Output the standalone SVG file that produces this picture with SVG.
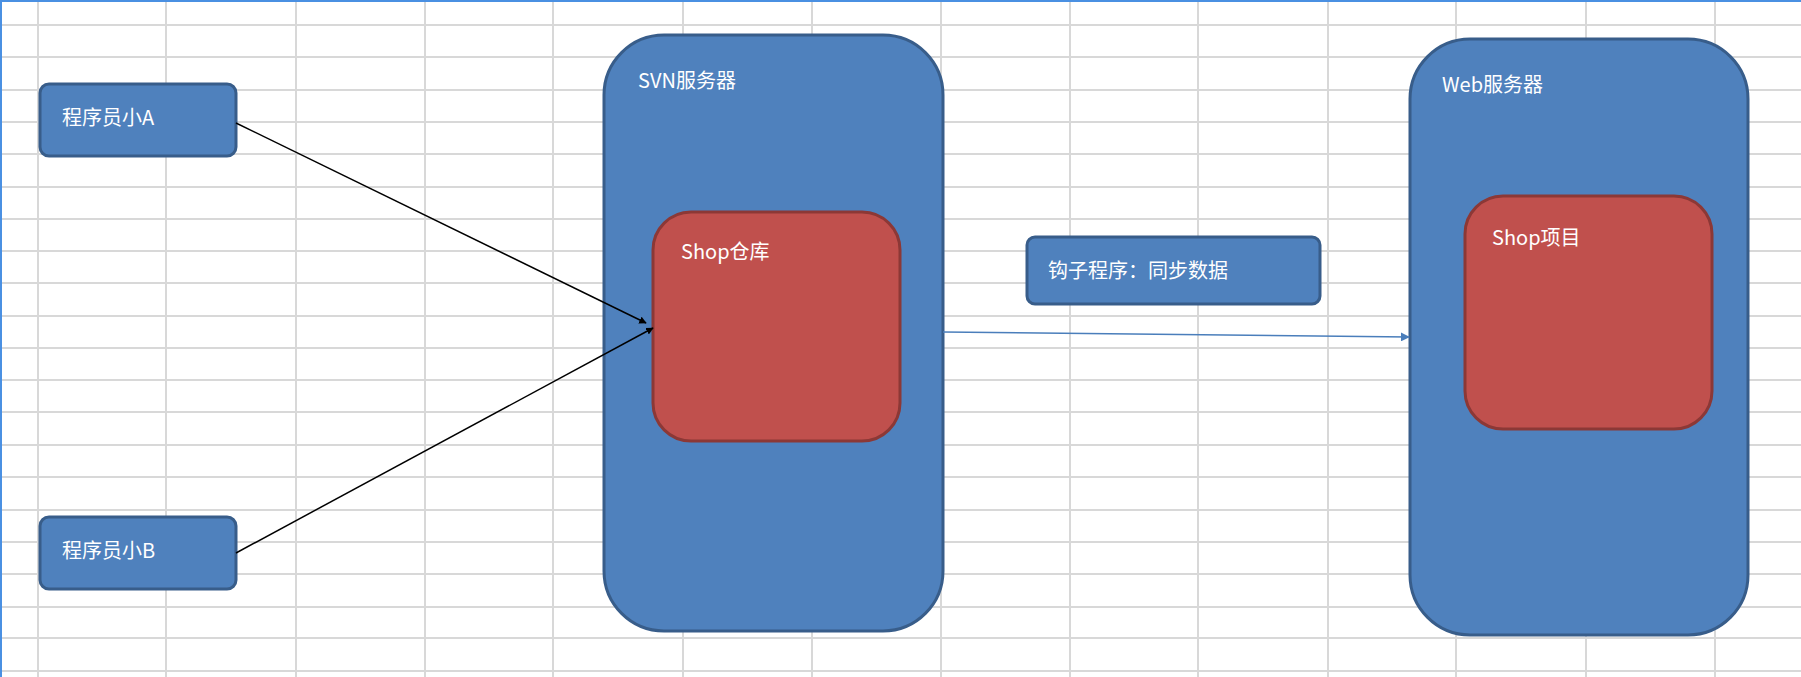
<svg xmlns="http://www.w3.org/2000/svg" width="1801" height="677" viewBox="0 0 1801 677">
<style>
.grid line{stroke:#d8d8d8;stroke-width:2}
.b{fill:#4f81bd;stroke:#385d8a;stroke-width:3}
.r{fill:#c0504d;stroke:#8c3836;stroke-width:3}
text{font-family:"Noto Sans CJK SC","Liberation Sans",sans-serif;font-size:20px;fill:#fff}
</style>
<defs>
<marker id="ab" viewBox="0 0 10 10" refX="9" refY="5" markerWidth="5" markerHeight="5" orient="auto"><path d="M0,0L10,5L0,10z" fill="#000"/></marker>
<marker id="au" viewBox="0 0 10 10" refX="9" refY="5" markerWidth="6" markerHeight="6" orient="auto"><path d="M0,0L10,5L0,10z" fill="#4a7ebb"/></marker>
</defs>
<rect width="1801" height="677" fill="#fff"/>
<g class="grid">
<line x1="38" y1="0" x2="38" y2="677"/><line x1="166" y1="0" x2="166" y2="677"/><line x1="296" y1="0" x2="296" y2="677"/><line x1="425" y1="0" x2="425" y2="677"/><line x1="553" y1="0" x2="553" y2="677"/><line x1="683" y1="0" x2="683" y2="677"/><line x1="812" y1="0" x2="812" y2="677"/><line x1="941" y1="0" x2="941" y2="677"/><line x1="1070" y1="0" x2="1070" y2="677"/><line x1="1198" y1="0" x2="1198" y2="677"/><line x1="1328" y1="0" x2="1328" y2="677"/><line x1="1456" y1="0" x2="1456" y2="677"/><line x1="1586" y1="0" x2="1586" y2="677"/><line x1="1715" y1="0" x2="1715" y2="677"/>
<line x1="0" y1="25" x2="1801" y2="25"/><line x1="0" y1="57" x2="1801" y2="57"/><line x1="0" y1="90" x2="1801" y2="90"/><line x1="0" y1="122" x2="1801" y2="122"/><line x1="0" y1="154" x2="1801" y2="154"/><line x1="0" y1="187" x2="1801" y2="187"/><line x1="0" y1="219" x2="1801" y2="219"/><line x1="0" y1="251" x2="1801" y2="251"/><line x1="0" y1="283" x2="1801" y2="283"/><line x1="0" y1="316" x2="1801" y2="316"/><line x1="0" y1="348" x2="1801" y2="348"/><line x1="0" y1="380" x2="1801" y2="380"/><line x1="0" y1="412" x2="1801" y2="412"/><line x1="0" y1="445" x2="1801" y2="445"/><line x1="0" y1="477" x2="1801" y2="477"/><line x1="0" y1="510" x2="1801" y2="510"/><line x1="0" y1="542" x2="1801" y2="542"/><line x1="0" y1="574" x2="1801" y2="574"/><line x1="0" y1="607" x2="1801" y2="607"/><line x1="0" y1="638" x2="1801" y2="638"/><line x1="0" y1="671" x2="1801" y2="671"/>
</g>
<line x1="0" y1="1" x2="1801" y2="1" stroke="#4a90e2" stroke-width="2"/>
<line x1="1" y1="0" x2="1" y2="677" stroke="#4a90e2" stroke-width="2"/>
<g id="svn"><rect class="b" x="604" y="35" width="339" height="596" rx="60"/><text x="638" y="88">SVN服务器</text></g>
<g id="repo"><rect class="r" x="653" y="212" width="247" height="229" rx="38"/><text x="681" y="259">Shop仓库</text></g>
<g id="web"><rect class="b" x="1410" y="39" width="338" height="596" rx="60"/><text x="1442" y="92">Web服务器</text></g>
<g id="proj"><rect class="r" x="1465" y="196" width="247" height="233" rx="38"/><text x="1492" y="245">Shop项目</text></g>
<g id="devA"><rect class="b" x="40" y="84" width="196" height="72" rx="9"/><text x="62" y="125">程序员小A</text></g>
<g id="devB"><rect class="b" x="40" y="517" width="196" height="72" rx="9"/><text x="62" y="558">程序员小B</text></g>
<g id="hook"><rect class="b" x="1027" y="237" width="293" height="67" rx="8"/><text x="1048" y="278">钩子程序：同步数据</text></g>
<g id="connectors">
<line x1="236" y1="123" x2="646" y2="323" stroke="#000" stroke-width="1.5" marker-end="url(#ab)"/>
<line x1="236" y1="553" x2="653" y2="328" stroke="#000" stroke-width="1.5" marker-end="url(#ab)"/>
<line x1="943" y1="332" x2="1409" y2="337" stroke="#4a7ebb" stroke-width="1.5" marker-end="url(#au)"/>
</g>
</svg>
